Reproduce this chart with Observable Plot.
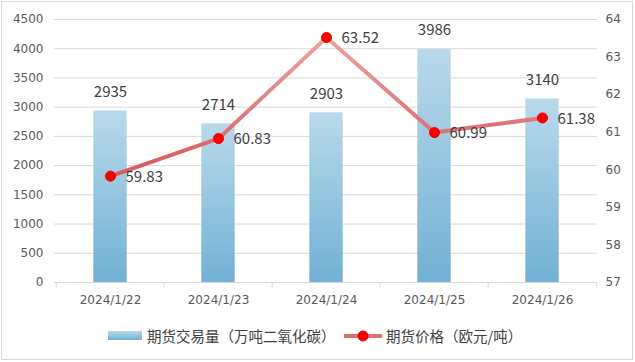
<!DOCTYPE html>
<html><head><meta charset="utf-8">
<script src="https://cdn.jsdelivr.net/npm/d3@7"></script>
<script src="https://cdn.jsdelivr.net/npm/@observablehq/plot@0.6"></script>
<style>
body{margin:0;background:#fff;font-family:"Noto Sans CJK SC","Microsoft YaHei",sans-serif;}
#frame{position:absolute;left:1px;top:1px;width:632px;height:359px;box-sizing:border-box;border:1px solid #d9d9d9;}
#chart{position:absolute;left:0;top:0;}
#legend{position:absolute;left:0;top:324px;width:635px;height:24px;font-size:14.5px;color:#404040;}
.sw{position:absolute;}
.lt{position:absolute;top:0;line-height:24px;white-space:nowrap;}
</style></head>
<body>
<div id="frame"></div>
<div id="chart"></div>
<div id="legend">
  <div class="sw" style="left:108px;top:7px;width:34px;height:9px;background:linear-gradient(#b9d9eb,#71b1d4);"></div>
  <div class="lt" style="left:147px;">期货交易量（万吨二氧化碳）</div>
  <svg class="sw" style="left:344px;top:2px;" width="38" height="20"><line x1="1" y1="10" x2="37" y2="10" stroke="#e07070" stroke-width="4" stroke-linecap="round"/><circle cx="19" cy="10" r="5" fill="#ff0000" stroke="#e00000"/></svg>
  <div class="lt" style="left:386px;">期货价格（欧元/吨）</div>
</div>
<script>
const dates = ["2024/1/22","2024/1/23","2024/1/24","2024/1/25","2024/1/26"];
const volume = [2935, 2714, 2903, 3986, 3140];
const price = [59.83, 60.83, 63.52, 60.99, 61.38];
const leftTicks = [0,500,1000,1500,2000,2500,3000,3500,4000,4500];
const rightTicks = [57,58,59,60,61,62,63,64];

const vMax = 4500, pMin = 57, pMax = 64;
const toLeft = p => (p - pMin) / (pMax - pMin) * vMax;
const fromLeft = v => v / vMax * (pMax - pMin) + pMin;

const rows = dates.map((d, i) => ({date: d, volume: volume[i], price: price[i], pv: toLeft(price[i])}));
const bounds = dates.map(d => ({date: d, dx: -1}));
bounds.push({date: dates[dates.length - 1], dx: 1});

const W = 635, H = 314, mL = 54, mR = 38, mB = 32;
const step = (W - mL - mR) / dates.length;
const axisFont = '"DejaVu Sans",sans-serif';

const defs = () => {
  const g = d3.create("svg:defs");
  const b = g.append("linearGradient").attr("id", "barGrad").attr("x1", 0).attr("y1", 0).attr("x2", 0).attr("y2", 1);
  b.append("stop").attr("offset", "0%").attr("stop-color", "#b9d9eb");
  b.append("stop").attr("offset", "100%").attr("stop-color", "#71b1d4");
  const l = g.append("linearGradient").attr("id", "lineGrad").attr("gradientUnits", "userSpaceOnUse")
    .attr("x1", 0).attr("y1", 19).attr("x2", 0).attr("y2", 200);
  l.append("stop").attr("offset", "0%").attr("stop-color", "#f0acac");
  l.append("stop").attr("offset", "100%").attr("stop-color", "#d44c4c");
  return g.node();
};

const chart = Plot.plot({
  width: W, height: H,
  marginLeft: mL, marginRight: mR, marginTop: 19, marginBottom: mB,
  style: {fontFamily: '"Noto Sans CJK SC","Microsoft YaHei",sans-serif', background: "transparent"},
  x: {type: "band", domain: dates, padding: 0},
  y: {domain: [0, vMax]},
  marks: [
    defs,
    Plot.gridY(leftTicks, {stroke: "#d9d9d9", strokeOpacity: 1, strokeWidth: 1}),
    Plot.axisY(leftTicks, {anchor: "left", tickSize: 0, tickPadding: 11, fontSize: 12, fontFamily: axisFont, color: "#595959", tickFormat: d3.format("d"), label: null}),
    Plot.axisY(rightTicks.map(toLeft), {anchor: "right", tickSize: 0, tickPadding: 8, fontSize: 12, fontFamily: axisFont, color: "#595959", tickFormat: v => d3.format("d")(Math.round(fromLeft(v))), label: null}),
    Plot.axisX({anchor: "bottom", tickSize: 0, tickPadding: 13, fontSize: 12, fontFamily: axisFont, color: "#595959", label: null}),
    Plot.barY(rows, {x: "date", y: "volume", fill: "url(#barGrad)", insetLeft: (step - 34) / 2, insetRight: (step - 34) / 2}),
    Plot.ruleY([0], {stroke: "#d9d9d9", strokeWidth: 1}),
    Plot.ruleX(bounds, {x: "date", y1: 0, y2: -95, stroke: "#d9d9d9", dx: -step / 2, filter: d => d.dx < 0}),
    Plot.ruleX(bounds, {x: "date", y1: 0, y2: -95, stroke: "#d9d9d9", dx: step / 2, filter: d => d.dx > 0}),
    Plot.text(rows, {x: "date", y: "volume", text: d => String(d.volume), dy: -19, fontSize: 15, fill: "#404040"}),
    Plot.line(rows, {x: "date", y: "pv", stroke: "url(#lineGrad)", strokeWidth: 4, strokeLinecap: "round", strokeLinejoin: "round"}),
    Plot.dot(rows, {x: "date", y: "pv", r: 5, fill: "#ff0000", stroke: "#e00000", strokeWidth: 1}),
    Plot.text(rows, {x: "date", y: "pv", text: d => d.price.toFixed(2), dx: 15, dy: 1, textAnchor: "start", fontSize: 15, fill: "#404040"})
  ]
});
document.getElementById("chart").appendChild(chart);
</script>
</body></html>
